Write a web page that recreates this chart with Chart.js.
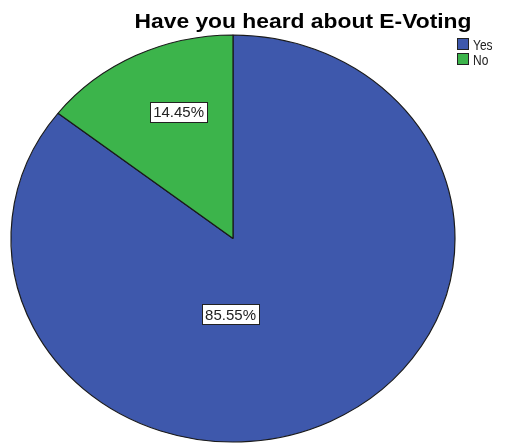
<!DOCTYPE html>
<html>
<head>
<meta charset="utf-8">
<script src="https://cdn.jsdelivr.net/npm/chart.js@4/dist/chart.umd.min.js"></script>
<style>
html,body{margin:0;padding:0;background:#fff;}
#wrap{width:505px;height:446px;position:relative;}
</style>
</head>
<body>
<div id="wrap"><canvas id="c" width="505" height="446"></canvas></div>
<script>
const titleText = "Have you heard about E-Voting";
const categories = ["Yes", "No"];
const values = [85.55, 14.45];
const valueLabels = ["85.55%", "14.45%"];
const colors = ["#3e58ac", "#3cb44b"];

// label offset within the pie, as a fraction of the radius (x, y)
const labelOffsets = [[-0.011, 0.374], [-0.245, -0.62]];
const squash = 203.5 / 222;

function drawScaledText(ctx, text, x, y, font, sx, sy, align) {
  ctx.save();
  ctx.font = font;
  ctx.translate(x, y);
  ctx.scale(sx, sy);
  ctx.textAlign = align || 'left';
  ctx.textBaseline = 'alphabetic';
  ctx.fillText(text, 0, 0);
  ctx.restore();
}

const ellipsePlugin = {
  id: 'ellipse',
  beforeDatasetsDraw(chart) {
    const ctx = chart.ctx;
    const arc = chart.getDatasetMeta(0).data[0];
    ctx.save();
    ctx.translate(arc.x, arc.y);
    ctx.scale(1, squash);
    ctx.translate(-arc.x, -arc.y);
  },
  afterDatasetsDraw(chart) {
    chart.ctx.restore();
  },
  afterDraw(chart) {
    const ctx = chart.ctx;
    const meta = chart.getDatasetMeta(0);
    // title
    ctx.save();
    ctx.fillStyle = '#000';
    ctx.font = 'bold 20px "Liberation Sans", Arial, sans-serif';
    const tw = ctx.measureText(titleText).width;
    drawScaledText(ctx, titleText, 303, 28, ctx.font, 337 / tw, 1, 'center');
    ctx.restore();
    // legend
    categories.forEach((cat, i) => {
      const y = 38 + i * 15;
      ctx.save();
      ctx.fillStyle = colors[i];
      ctx.fillRect(457, y, 12, 12);
      ctx.strokeStyle = '#222';
      ctx.lineWidth = 1;
      ctx.strokeRect(457.5, y + 0.5, 11, 11);
      ctx.fillStyle = '#222';
      drawScaledText(ctx, cat, 473, y + 12, '15px "Liberation Sans", Arial, sans-serif', 0.8, 1, 'left');
      ctx.restore();
    });
    // value labels
    meta.data.forEach((arc, i) => {
      const r = arc.outerRadius;
      const cx = arc.x + labelOffsets[i][0] * r;
      const cy = arc.y + labelOffsets[i][1] * r * squash;
      ctx.save();
      ctx.font = '15px "Liberation Sans", Arial, sans-serif';
      const w = ctx.measureText(valueLabels[i]).width + 7;
      const h = 21;
      ctx.fillStyle = '#fff';
      ctx.fillRect(Math.round(cx - w / 2), Math.round(cy - h / 2), Math.round(w), h);
      ctx.strokeStyle = '#222';
      ctx.lineWidth = 1;
      ctx.strokeRect(Math.round(cx - w / 2) + 0.5, Math.round(cy - h / 2) + 0.5, Math.round(w) - 1, h - 1);
      ctx.fillStyle = '#222';
      ctx.textAlign = 'center';
      ctx.textBaseline = 'middle';
      ctx.fillText(valueLabels[i], cx, cy + 1);
      ctx.restore();
    });
  }
};

new Chart(document.getElementById('c'), {
  type: 'pie',
  data: {
    labels: categories,
    datasets: [{
      data: values,
      backgroundColor: colors,
      borderColor: '#1a1a1a',
      borderWidth: 1.2
    }]
  },
  options: {
    responsive: false,
    animation: false,
    radius: 222,
    layout: { padding: { left: 0, right: 39, top: 31, bottom: 0 } },
    plugins: {
      legend: { display: false },
      title: { display: false },
      tooltip: { enabled: false }
    }
  },
  plugins: [ellipsePlugin]
});
</script>
</body>
</html>
